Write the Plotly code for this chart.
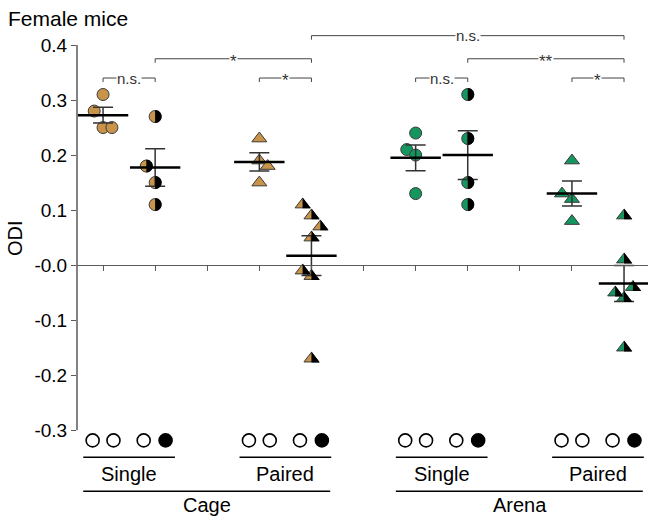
import numpy as np
import plotly.graph_objects as go

TAN = "#C99349"
GREEN = "#15965F"
EDGE = "#3a3a3a"
AX = "#5a5a5a"
FONT = "Liberation Sans, Arial, sans-serif"

# ---- data ----
positions = [1, 2, 4, 5, 7, 8, 10, 11]
cage_single_ctrl = [0.31, 0.28, 0.25, 0.25]
cage_single_ctrl_off = [0.0, -0.17, 0.0, 0.17]
cage_single_exp = [0.27, 0.18, 0.15, 0.11]
cage_single_exp_off = [0.0, -0.17, 0.0, 0.0]
cage_paired_ctrl = [0.23, 0.19, 0.18, 0.15]
cage_paired_ctrl_off = [0.0, 0.0, 0.16, 0.0]
cage_paired_exp = [0.11, 0.09, 0.07, 0.05, -0.01, -0.02, -0.17]
cage_paired_exp_off = [-0.17, 0.0, 0.17, 0.0, -0.17, 0.0, 0.0]
arena_single_ctrl = [0.24, 0.21, 0.20, 0.13]
arena_single_ctrl_off = [0.0, -0.17, 0.0, 0.0]
arena_single_exp = [0.31, 0.23, 0.15, 0.11]
arena_single_exp_off = [0.0, 0.0, 0.0, 0.0]
arena_paired_ctrl = [0.19, 0.13, 0.12, 0.08]
arena_paired_ctrl_off = [0.0, -0.19, 0.0, 0.0]
arena_paired_exp = [0.09, 0.01, -0.04, -0.05, -0.06, -0.15]
arena_paired_exp_off = [0.0, 0.0, 0.17, -0.17, 0.0, 0.0]

yticks = [0.4, 0.3, 0.2, 0.1, 0.0, -0.1, -0.2, -0.3]
yticklabels = ["0.4", "0.3", "0.2", "0.1", "-0.0", "-0.1", "-0.2", "-0.3"]

# brackets: (x0, x1, level, label)
brackets = [
    (1, 2, 0.34, "n.s."),
    (4, 5, 0.34, "*"),
    (2, 5, 0.375, "*"),
    (7, 8, 0.34, "n.s."),
    (10, 11, 0.34, "*"),
    (8, 11, 0.375, "**"),
    (5, 11, 0.417, "n.s."),
]
sub_labels = [("Single", 1.5), ("Paired", 4.5), ("Single", 7.5), ("Paired", 10.5)]
main_labels = [("Cage", 3.0), ("Arena", 9.0)]

groups = [
    (cage_single_ctrl, cage_single_ctrl_off, "circle", TAN, False),
    (cage_single_exp, cage_single_exp_off, "circle", TAN, True),
    (cage_paired_ctrl, cage_paired_ctrl_off, "triangle-up", TAN, False),
    (cage_paired_exp, cage_paired_exp_off, "triangle-up", TAN, True),
    (arena_single_ctrl, arena_single_ctrl_off, "circle", GREEN, False),
    (arena_single_exp, arena_single_exp_off, "circle", GREEN, True),
    (arena_paired_ctrl, arena_paired_ctrl_off, "triangle-up", GREEN, False),
    (arena_paired_exp, arena_paired_exp_off, "triangle-up", GREEN, True),
]

YMIN, YMAX = -0.345, 0.4      # plotting range (icons sit below -0.3)
AXMIN, AXMAX = -0.3, 0.4      # drawn axis extent
H = 517
W = 648
LEFT = 77
TOP = 45
PX_PER = 550.0
BOTTOM = TOP + (YMAX - YMIN) * PX_PER
PLOT_H = BOTTOM - TOP
PLOT_W = W - LEFT

def to_paper(v):
    return (v - YMIN) / (YMAX - YMIN)

def py_to_paper(py):
    return (BOTTOM - py) / PLOT_H

def px_to_paper(px):
    return (px - LEFT) / PLOT_W

fig = go.Figure()
shapes = []
annotations = []

CIRC_SIZE = 12
TRI_SIZE = 13
k = 0.5523

for pos, (vals, offs, sym, col, half) in zip(positions, groups):
    xs = [pos + o for o in offs]
    size = CIRC_SIZE if sym == "circle" else TRI_SIZE
    fig.add_trace(go.Scatter(
        x=xs, y=vals, mode="markers",
        marker=dict(symbol=sym, size=size, color=col,
                    line=dict(color=EDGE, width=1)),
        showlegend=False, hoverinfo="y", cliponaxis=False))
    if half:
        for x, y in zip(xs, vals):
            if sym == "circle":
                r = CIRC_SIZE / 2 + 0.5
                path = (f"M0,{r} C{k*r:.2f},{r} {r},{k*r:.2f} {r},0 "
                        f"C{r},{-k*r:.2f} {k*r:.2f},{-r} 0,{-r} Z")
            else:
                r = TRI_SIZE / 2
                rt = 2 * r / np.sqrt(3)
                path = f"M0,{r+0.6:.2f} L{rt+0.8:.2f},{-r/2-0.5:.2f} L0,{-r/2-0.5:.2f} Z"
            shapes.append(dict(type="path", xref="x", yref="y",
                               xsizemode="pixel", ysizemode="pixel",
                               xanchor=x, yanchor=y, path=path,
                               fillcolor="black", line=dict(width=0),
                               layer="above"))

# mean + SEM
for pos, (vals, offs, sym, col, half) in zip(positions, groups):
    v = np.array(vals)
    m = v.mean()
    sem = v.std(ddof=1) / np.sqrt(len(v))
    fig.add_trace(go.Scatter(
        x=[pos], y=[m], mode="markers",
        marker=dict(symbol="line-ew", size=36, color="black",
                    line=dict(color="black", width=2.5)),
        error_y=dict(type="data", array=[sem], color="#333333",
                     thickness=1.5, width=10),
        showlegend=False, hoverinfo="y"))

# condition icons below axis
icon_y = -0.3185
for pos in positions:
    second = pos in (2, 5, 8, 11)
    left = pos - (0.22 if second else 0.2)
    right = pos + 0.2
    fig.add_trace(go.Scatter(
        x=[left, right], y=[icon_y, icon_y], mode="markers",
        marker=dict(symbol="circle", size=13,
                    color=["white", "black" if second else "white"],
                    line=dict(color="black", width=1.6)),
        showlegend=False, hoverinfo="skip"))

# y axis line (only from -0.3 to 0.4)
shapes.append(dict(type="line", xref="paper", yref="y", x0=0, x1=0,
                   y0=AXMIN, y1=AXMAX, line=dict(color=AX, width=1.5)))

# brackets
tick = 4.0 / PLOT_H
for x0, x1, lev, lab in brackets:
    yp = to_paper(lev)
    shapes.append(dict(type="path", xref="x", yref="paper",
                       path=f"M{x0},{yp - tick} L{x0},{yp} L{x1},{yp} L{x1},{yp - tick}",
                       line=dict(color="#444444", width=1)))
    star = "*" in lab
    annotations.append(dict(x=(x0 + x1) / 2, y=yp + (-2.5 / PLOT_H if star else 0.0),
                            xref="x", yref="paper",
                            text=lab, showarrow=False, bgcolor="white",
                            font=dict(family=FONT, size=17 if star else 15, color="#333333"),
                            xanchor="center", yanchor="middle", borderpad=0))

# y-axis title
annotations.append(dict(x=px_to_paper(15), y=py_to_paper(238), xref="paper", yref="paper",
                        text="ODI", textangle=-90, showarrow=False,
                        font=dict(family=FONT, size=20, color="black"),
                        xanchor="center", yanchor="middle"))

# bottom group lines and labels
sub_line_y = py_to_paper(457)
sub_text_y = py_to_paper(474)
main_line_y = py_to_paper(491)
main_text_y = py_to_paper(505)
for lab, c in sub_labels:
    shapes.append(dict(type="line", xref="x", yref="paper",
                       x0=c - 0.88, x1=c + 0.88, y0=sub_line_y, y1=sub_line_y,
                       line=dict(color="black", width=1.6)))
    annotations.append(dict(x=c, y=sub_text_y, xref="x", yref="paper", text=lab,
                            showarrow=False, font=dict(family=FONT, size=20, color="black"),
                            xanchor="center", yanchor="middle"))
for lab, c in main_labels:
    shapes.append(dict(type="line", xref="x", yref="paper",
                       x0=c - 2.38, x1=c + 2.36, y0=main_line_y, y1=main_line_y,
                       line=dict(color="black", width=1.6)))
    annotations.append(dict(x=c, y=main_text_y, xref="x", yref="paper", text=lab,
                            showarrow=False, font=dict(family=FONT, size=20, color="black"),
                            xanchor="center", yanchor="middle"))

fig.update_layout(
    width=W, height=H,
    margin=dict(l=LEFT, r=0, t=TOP, b=H - BOTTOM),
    plot_bgcolor="white", paper_bgcolor="white",
    font=dict(family=FONT, color="black"),
    title=dict(text="Female mice", x=8 / W, xanchor="left", xref="container",
               y=1 - 19 / H, yanchor="middle", yref="container",
               font=dict(family=FONT, size=21, color="black")),
    shapes=shapes, annotations=annotations,
    xaxis=dict(range=[0.5, 11.46], anchor="free", position=to_paper(0.0),
               showline=True, linecolor=AX, linewidth=1.3,
               ticks="outside", ticklen=5, tickcolor=AX, tickwidth=1.3,
               tickvals=list(range(1, 12)), showticklabels=False,
               showgrid=False, zeroline=False),
    yaxis=dict(range=[YMIN, YMAX], showline=False,
               ticks="outside", ticklen=5, tickcolor=AX, tickwidth=1.3,
               tickvals=yticks, ticktext=yticklabels,
               tickfont=dict(family=FONT, size=19, color="black"),
               showgrid=False, zeroline=False),
)

fig.write_html("out.html")
